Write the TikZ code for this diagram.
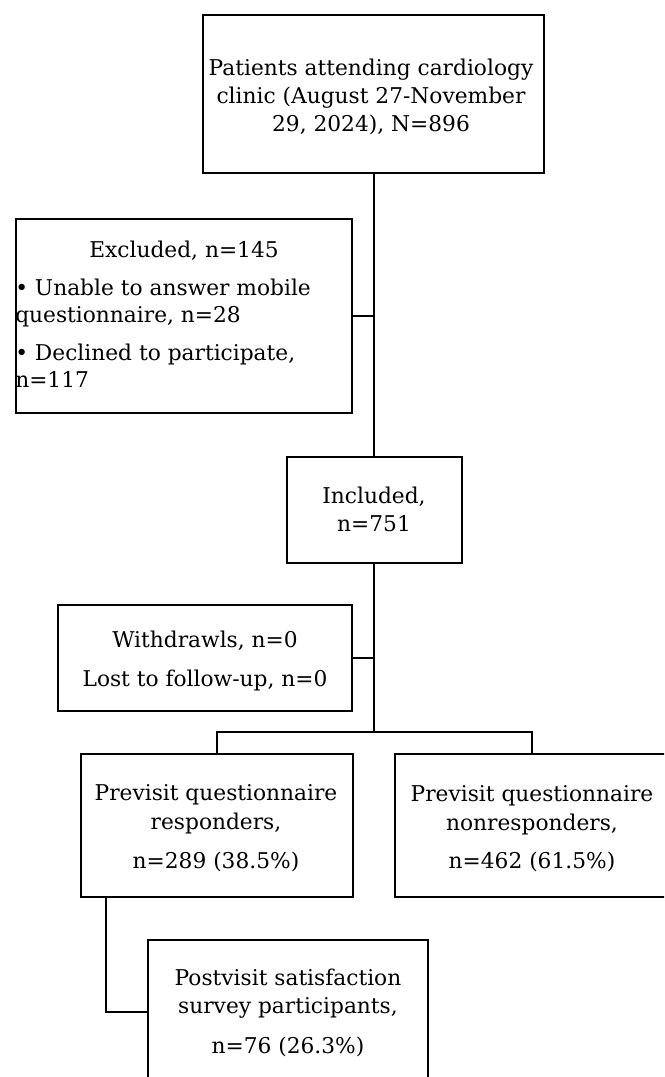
\documentclass[tikz,border=0pt]{standalone}
\usepackage{fontspec}
\setmainfont{DejaVu Serif}
\usetikzlibrary{fit}
\newcommand{\fsz}{\fontsize{16.3pt}{21pt}\selectfont}
\begin{document}
\begin{tikzpicture}[x=0.75pt,y=-0.75pt,
  box/.style={draw, line width=1.5pt, inner sep=0pt},
  conn/.style={draw, line width=1.5pt},
  tl/.style={font=\fsz, inner sep=0pt, anchor=base},
  tw/.style={font=\fsz, inner sep=0pt, anchor=base west}]
\useasboundingbox (0,0) rectangle (664,1077);
\clip (0,0) rectangle (664,1077);
% boxes
\node[box, fit={(203,15) (544,173)}] (top) {};
\node[box, fit={(16,219) (352,413)}] (excl) {};
\node[box, fit={(287,457) (462,563)}] (incl) {};
\node[box, fit={(58,605) (352,711)}] (wd) {};
\node[box, fit={(81,754) (353,897)}] (resp) {};
\node[box, fit={(395,754) (669,897)}] (nonr) {};
\node[box, fit={(148,940) (428,1084)}] (post) {};
\coordinate (split) at (374,732);
% texts
\node[tl] (t1) at (371,76) {Patients attending cardiology};
\node[tl] (t2) at (371,104) {clinic (August 27-November};
\node[tl] (t3) at (371,132) {29, 2024), N=896};
\node[tl] (e0) at (184,257) {Excluded, n=145};
\node[tw] (e1) at (15,295) {• Unable to answer mobile};
\node[tw] (e2) at (15,322) {questionnaire, n=28};
\node[tw] (e3) at (15,360) {• Declined to participate,};
\node[tw] (e4) at (15,387) {n=117};
\node[tl] (i1) at (374,503) {Included,};
\node[tl] (i2) at (374,531) {n=751};
\node[tl] (w1) at (205,647) {Withdrawls, n=0};
\node[tl] (w2) at (205,686) {Lost to follow-up, n=0};
\node[tl] (r1) at (216,800) {Previsit questionnaire};
\node[tl] (r2) at (216,829) {responders,};
\node[tl] (r3) at (216,868) {n=289 (38.5\%)};
\node[tl] (n1) at (532,801) {Previsit questionnaire};
\node[tl] (n2) at (532,830) {nonresponders,};
\node[tl] (n3) at (532,868) {n=462 (61.5\%)};
\node[tl] (p1) at (288,985) {Postvisit satisfaction};
\node[tl] (p2) at (288,1013) {survey participants,};
\node[tl] (p3) at (288,1053) {n=76 (26.3\%)};
% connectors
\draw[conn] (top.south -| split) -- (incl.north -| split);
\draw[conn] (excl.east) -- (excl.east -| split);
\draw[conn] (incl.south -| split) -- (split);
\draw[conn] (wd.east) -- (wd.east -| split);
\draw[conn] (resp.north) |- (split) -| (nonr.north);
\draw[conn] ([xshift=19.5pt]resp.south west) |- (post.west);
\end{tikzpicture}
\end{document}
